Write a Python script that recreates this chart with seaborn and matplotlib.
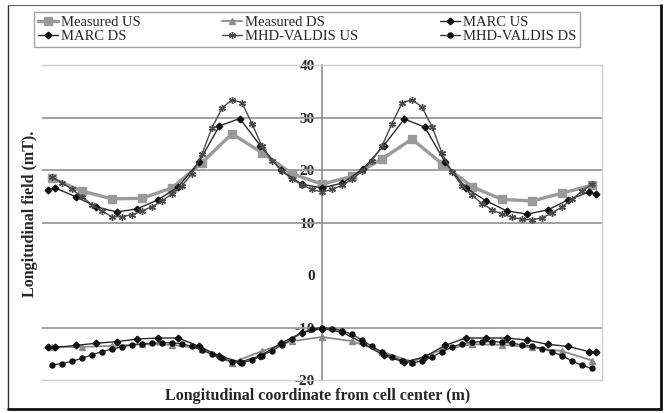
import numpy as np
import pandas as pd
import matplotlib
matplotlib.use("Agg")
import matplotlib.pyplot as plt
from matplotlib.lines import Line2D
import seaborn as sns

# Measured field, probes every 1 m along the cell
x_meas = [-9, -8, -7, -6, -5, -4, -3, -2, -1, 0, 1, 2, 3, 4, 5, 6, 7, 8, 9]
meas_us = [18.4, 16.0, 14.5, 14.6, 16.6, 21.4, 26.9, 23.3, 19.3, 17.3,
           18.8, 22.1, 25.9, 21.2, 16.8, 14.4, 14.1, 15.6, 17.1]
meas_ds = [-13.7, -13.7, -13.5, -13.2, -13.3, -14.0, -16.7, -14.5, -12.6, -11.8,
           -12.6, -14.6, -16.5, -14.2, -13.2, -13.3, -13.8, -14.5, -16.3]

# MARC model results
x_marc = [-9.13, -8.9, -8.2, -7.52, -6.84, -6.16, -5.47, -4.79, -4.1, -3.42,
          -2.74, -2.05, -1.37, -0.68, 0, 0.68, 1.37, 2.05, 2.74, 3.42,
          4.1, 4.79, 5.47, 6.16, 6.84, 7.52, 8.2, 8.9, 9.13]
marc_us = [16.2, 16.6, 14.9, 13.0, 12.0, 12.6, 14.3, 16.8, 21.5, 28.4,
           29.8, 24.6, 20.0, 17.3, 16.6, 17.5, 20.2, 24.6, 29.7, 28.2,
           21.5, 16.6, 14.1, 12.2, 11.6, 12.4, 14.3, 15.8, 15.4]
marc_ds = [-13.8, -13.8, -13.4, -13.0, -12.7, -12.2, -12.0, -12.0, -13.6, -15.4,
           -16.6, -15.4, -13.0, -11.0, -10.2, -10.9, -13.0, -15.3, -16.6, -15.6,
           -13.4, -12.0, -12.0, -12.0, -12.4, -13.2, -13.6, -14.6, -14.6]

# MHD-VALDIS model results
x_mhd = [-9, -8.67, -8.33, -8, -7.67, -7.33, -7, -6.67, -6.33, -6,
         -5.67, -5.33, -5, -4.67, -4.33, -4, -3.67, -3.33, -3, -2.67,
         -2.33, -2, -1.67, -1.33, -1, -0.67, -0.33, 0, 0.33, 0.67,
         1, 1.33, 1.67, 2, 2.33, 2.67, 3, 3.33, 3.67, 4,
         4.33, 4.67, 5, 5.33, 5.67, 6, 6.33, 6.67, 7, 7.33,
         7.67, 8, 8.33, 8.67, 9]
mhd_us = [18.6, 17.6, 16.3, 14.9, 13.4, 12.2, 11.1, 11.1, 11.5, 12.2,
          13.0, 14.1, 15.5, 17.0, 19.3, 23.0, 28.0, 31.8, 33.4, 32.8,
          28.8, 24.5, 21.8, 19.8, 18.3, 17.2, 16.3, 15.8, 16.3, 17.1,
          18.2, 19.8, 21.8, 24.6, 28.8, 32.8, 33.4, 32.0, 28.2, 23.2,
          19.6, 17.0, 15.2, 13.6, 12.4, 11.6, 11.0, 10.6, 10.5, 10.9,
          11.8, 13.0, 14.4, 16.0, 17.4]
mhd_ds = [-17.1, -16.9, -16.4, -15.9, -15.2, -14.6, -14.1, -13.7, -13.3, -13.1,
          -13.0, -12.9, -12.9, -13.1, -13.6, -14.3, -15.1, -15.9, -16.5, -16.7,
          -16.2, -15.4, -14.4, -13.3, -12.2, -11.0, -10.3, -10.0, -10.2, -10.6,
          -11.3, -12.4, -13.6, -14.7, -15.6, -16.3, -16.7, -16.4, -15.6, -14.6,
          -13.7, -13.1, -12.8, -12.7, -12.7, -12.8, -13.0, -13.3, -13.6, -14.0,
          -14.6, -15.4, -16.4, -17.2, -17.8]

y_ticks = [-20, -10, 0, 10, 20, 30, 40]
y_grid = [-10, 10, 20, 30]

sns.set_style("white")
plt.rcParams["font.family"] = ["Liberation Serif", "DejaVu Serif"]
plt.rcParams["font.weight"] = "bold"

W, H = 665, 413
fig = plt.figure(figsize=(W / 100, H / 100), dpi=100)
ax = fig.add_axes([42 / W, 1 - 380 / H, 560 / W, 315 / H])

for g in y_grid:
    ax.axhline(g, color="#9a9a9a", lw=1.3, zorder=1)

# (label, x, y, colour, line width, marker, marker size, marker colour)
series = [
    ("Measured US", x_meas, meas_us, "#9a9a9a", 2.4, "s", 5.5, "#9a9a9a"),
    ("Measured DS", x_meas, meas_ds, "#8a8a8a", 1.3, "^", 5.0, "#8a8a8a"),
    ("MARC US", x_marc, marc_us, "#2a2a2a", 1.0, "D", 3.4, "#111111"),
    ("MARC DS", x_marc, marc_ds, "#2a2a2a", 1.0, "D", 3.4, "#111111"),
    ("MHD-VALDIS US", x_mhd, mhd_us, "#4a4a4a", 1.0, (6, 2, 0), 5.0, "#4a4a4a"),
    ("MHD-VALDIS DS", x_mhd, mhd_ds, "#3a3a3a", 1.0, "o", 3.6, "#111111"),
]

handles = {}
for name, xs, ys, col, lw, mk, ms, mec in series:
    df = pd.DataFrame({"x": xs, "y": ys})
    sns.lineplot(data=df, x="x", y="y", ax=ax, color=col, lw=lw, marker=mk,
                 markersize=ms, markerfacecolor=mec, markeredgecolor=mec,
                 markeredgewidth=1.0, zorder=3)
    handles[name] = Line2D([], [], color=col, lw=lw, marker=mk, markersize=ms,
                           markerfacecolor=mec, markeredgecolor=mec,
                           markeredgewidth=1.0)

ax.set_xlim(-9.33, 9.33)
ax.set_ylim(-20, 40)
ax.set_xticks([])
ax.set_yticks(y_ticks)
ax.set_yticklabels([str(t) for t in y_ticks])
ax.tick_params(axis="y", direction="out", length=4, width=1, color="#8c8c8c",
               pad=1, labelsize=11)
ax.spines["left"].set_position(("data", 0))
ax.spines["left"].set_color("#8c8c8c")
ax.spines["left"].set_linewidth(1.2)
for s in ("top", "right", "bottom"):
    ax.spines[s].set_color("#cfcfcf")
    ax.spines[s].set_linewidth(1.0)
ax.set_xlabel("")
ax.set_ylabel("")

fig.text(30 / W, 1 - 214 / H, "Longitudinal field (mT).", rotation=90,
         ha="center", va="center", fontsize=11.5, fontweight="bold")
fig.text(318 / W, 1 - 396 / H, "Longitudinal coordinate from cell center (m)",
         ha="center", va="center", fontsize=11.5, fontweight="bold")

order = ["Measured US", "MARC DS", "Measured DS", "MHD-VALDIS US",
         "MARC US", "MHD-VALDIS DS"]
leg = fig.legend([handles[k] for k in order], order, ncol=3,
                 loc="lower left", mode="expand",
                 bbox_to_anchor=(34 / W, 1 - 47 / H, 546 / W, 39 / H),
                 prop={"size": 10.5, "weight": "normal"},
                 frameon=True, fancybox=False, handlelength=1.4,
                 handletextpad=0.2, borderpad=0.25, labelspacing=0.1,
                 borderaxespad=0)
leg.get_frame().set_edgecolor("#8c8c8c")
leg.get_frame().set_linewidth(1.0)

# outer frame around the whole chart
fig.add_artist(Line2D([8 / W, 8 / W], [1 - 5 / H, 1 - 409 / H], color="#333333",
                      lw=1.0, transform=fig.transFigure))
fig.add_artist(Line2D([8 / W, 661 / W], [1 - 5 / H, 1 - 5 / H], color="#666666",
                      lw=0.8, transform=fig.transFigure))
fig.add_artist(Line2D([661 / W, 661 / W], [1 - 5 / H, 1 - 409 / H],
                      color="#111111", lw=2.0, transform=fig.transFigure))
fig.add_artist(Line2D([8 / W, 661 / W], [1 - 409 / H, 1 - 409 / H],
                      color="#111111", lw=2.0, transform=fig.transFigure))

fig.savefig("out.png", dpi=100)
